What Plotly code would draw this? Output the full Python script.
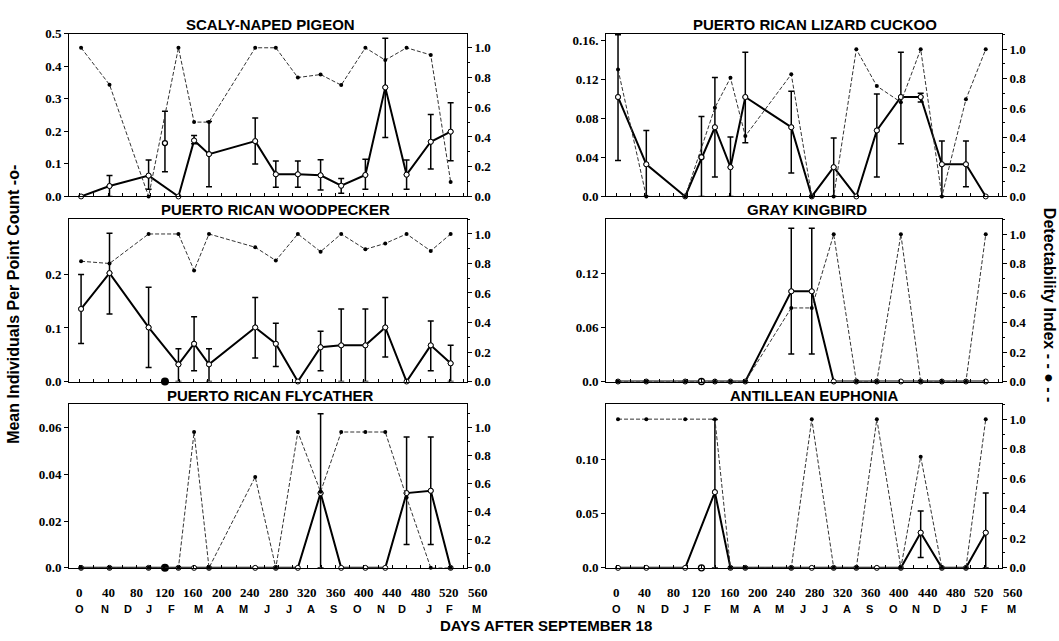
import plotly.graph_objects as go

# ---------------- data ----------------
days = [2, 42, 97, 139, 161, 182, 247, 276, 307, 339, 368, 402, 430, 460, 494, 522]
iso_day = 120

pigeon_mean = [0.0, 0.032, 0.064, 0.0, 0.172, 0.13, 0.17, 0.068, 0.068, 0.065, 0.033, 0.066, 0.335, 0.067, 0.168, 0.199]
pigeon_hi = [None, 0.064, 0.112, None, 0.187, 0.23, 0.241, 0.109, 0.109, 0.113, 0.055, 0.114, 0.486, 0.112, 0.252, 0.288]
pigeon_lo = [None, 0.0, 0.022, None, 0.162, 0.03, 0.10, 0.028, 0.028, 0.02, 0.01, 0.022, 0.181, 0.022, 0.084, 0.11]
pigeon_det = [1.0, 0.752, 0.0, 1.0, 0.50, 0.50, 1.0, 1.0, 0.80, 0.82, 0.749, 1.0, 0.917, 1.0, 0.952, 0.098]
pigeon_iso = [0.164, 0.262, 0.076]      # mean, hi, lo

woodpecker_mean = [0.1355, 0.2024, 0.101, 0.032, 0.0705, 0.032, 0.101, 0.0705, 0.0, 0.064, 0.0675, 0.0675, 0.101, 0.0, 0.0675, 0.034]
woodpecker_hi = [0.2, 0.277, 0.176, 0.061, 0.121, 0.061, 0.157, 0.109, None, 0.094, 0.1355, 0.1355, 0.157, None, 0.113, 0.0675]
woodpecker_lo = [0.071, 0.126, 0.026, 0.0, 0.02, 0.0, 0.044, 0.028, None, 0.02, 0.0, 0.0, 0.046, None, 0.02, 0.0]
woodpecker_det = [0.815, 0.80, 1.0, 1.0, 0.753, 1.0, 0.91, 0.82, 1.0, 0.88, 1.0, 0.896, 0.936, 1.0, 0.885, 1.0]

flycatcher_mean = [0, 0, 0, 0, 0, 0, 0, 0, 0, 0.032, 0, 0, 0, 0.032, 0.033, 0]
flycatcher_hi = [None] * 9 + [0.066, None, None, None, 0.056, 0.056, None]
flycatcher_lo = [None] * 9 + [0.0, None, None, None, 0.01, 0.01, None]
flycatcher_det = [0, 0, 0, 0, 0.965, 0, 0.646, 0, 0.965, 0.54, 0.965, 0.965, 0.965, 0.5, 0, 0]

cuckoo_mean = [0.102, 0.033, 0.0, 0.071, 0.030, 0.102, 0.071, 0.0, 0.030, 0.0, 0.0677, 0.102, 0.102, 0.033, 0.033, 0.0]
cuckoo_hi = [0.166, 0.0677, None, 0.122, 0.061, 0.148, 0.108, None, 0.060, None, 0.105, 0.148, 0.106, 0.057, 0.057, None]
cuckoo_lo = [0.037, 0.0, None, 0.02, 0.0, 0.055, 0.024, None, 0.0, None, 0.02, 0.054, 0.097, 0.0, 0.01, None]
cuckoo_det = [0.863, 0.0, 0.0, 0.603, 0.806, 0.41, 0.83, 0.0, 0.0, 1.0, 0.75, 0.64, 1.0, 0.0, 0.66, 1.0]
cuckoo_iso = [0.0403, 0.082, 0.0]

kingbird_mean = [0, 0, 0, 0, 0, 0, 0.1006, 0.1006, 0, 0, 0, 0, 0, 0, 0, 0]
kingbird_hi = [None] * 6 + [0.171, 0.171] + [None] * 8
kingbird_lo = [None] * 6 + [0.0307, 0.0307] + [None] * 8
kingbird_det = [0, 0, 0, 0, 0, 0, 0.5, 0.5, 1.0, 0, 0, 1.0, 0, 0, 0, 1.0]

euphonia_mean = [0, 0, 0, 0.0699, 0, 0, 0, 0, 0, 0, 0, 0, 0.0325, 0, 0, 0.0325]
euphonia_hi = [None, None, None, 0.137] + [None] * 8 + [0.0524, None, None, 0.069]
euphonia_lo = [None, None, None, 0.0] + [None] * 8 + [0.0096, None, None, 0.0]
euphonia_det = [1.0, 1.0, 1.0, 1.0, 0, 0, 0, 1.0, 0, 0, 1.0, 0, 0.748, 0, 0, 1.0]

tick_days = [0, 40, 80, 120, 160, 200, 240, 280, 320, 360, 400, 440, 480, 520, 560]
month_txt = ['O', 'N', 'D', 'J', 'F', 'M', 'A', 'M', 'J', 'J', 'A', 'S', 'O', 'N', 'D', 'J', 'F', 'M']
month_pos = [0, 35, 68, 98, 129, 167, 198, 231, 263, 295, 326, 357, 391, 424, 453, 491, 520, 558]

# ---------------- layout geometry ----------------
W, H = 1059, 641
def fx(p): return p / W
def fy(p): return 1 - p / H

LEFT = (69, 467)
RIGHT = (606, 1002)
ROWS = [(27.3, 194.0), (217.3, 383.5), (406.8, 574.3)]
XR = [-15, 545]

SERIF = "Liberation Serif"
SANS = "Liberation Sans"

panels = [
    dict(title="SCALY-NAPED PIGEON", col=LEFT, row=ROWS[0], tx=270,
         mean=pigeon_mean, hi=pigeon_hi, lo=pigeon_lo, det=pigeon_det,
         iso=pigeon_iso, iso_kind="open", yr=0.5,
         yt=[0, 0.1, 0.2, 0.3, 0.4, 0.5], ytt=["0.0", "0.1", "0.2", "0.3", "0.4", "0.5"], dr=1.095),
    dict(title="PUERTO RICAN WOODPECKER", col=LEFT, row=ROWS[1], tx=275,
         mean=woodpecker_mean, hi=woodpecker_hi, lo=woodpecker_lo, det=woodpecker_det,
         iso=[0.0, None, None], iso_kind="filled", yr=0.303,
         yt=[0, 0.1, 0.2], ytt=["0.0", "0.1", "0.2"], dr=1.10),
    dict(title="PUERTO RICAN FLYCATHER", col=LEFT, row=ROWS[2], tx=270,
         mean=flycatcher_mean, hi=flycatcher_hi, lo=flycatcher_lo, det=flycatcher_det,
         iso=[0.0, None, None], iso_kind="filled", yr=0.070,
         yt=[0, 0.02, 0.04, 0.06], ytt=["0.0", "0.02", "0.04", "0.06"], dr=1.162),
    dict(title="PUERTO RICAN LIZARD CUCKOO", col=RIGHT, row=ROWS[0], tx=815,
         mean=cuckoo_mean, hi=cuckoo_hi, lo=cuckoo_lo, det=cuckoo_det,
         iso=cuckoo_iso, iso_kind="open", yr=0.167,
         yt=[0, 0.04, 0.08, 0.12, 0.16], ytt=["0.0", "0.04", "0.08", "0.12", "0.16."], dr=1.106),
    dict(title="GRAY KINGBIRD", col=RIGHT, row=ROWS[1], tx=807,
         mean=kingbird_mean, hi=kingbird_hi, lo=kingbird_lo, det=kingbird_det,
         iso=[0.0, None, None], iso_kind="open", yr=0.181,
         yt=[0, 0.06, 0.12], ytt=["0.0", "0.06", "0.12"], dr=1.103),
    dict(title="ANTILLEAN EUPHONIA", col=RIGHT, row=ROWS[2], tx=814,
         mean=euphonia_mean, hi=euphonia_hi, lo=euphonia_lo, det=euphonia_det,
         iso=[0.0, None, None], iso_kind="open", yr=0.151,
         yt=[0, 0.05, 0.10], ytt=["0.0", "0.05", "0.10"], dr=1.10),
]

fig = go.Figure()
layout = dict(width=W, height=H, margin=dict(l=0, r=0, t=0, b=0),
              paper_bgcolor="white", plot_bgcolor="white", showlegend=False,
              annotations=[])

tickfont = dict(family=SERIF, size=13, color="black", weight="bold")

for i, p in enumerate(panels):
    k = i + 1
    kd = k + 6
    xa, ya_mean, ya_det = f"x{k}", f"y{k}", f"y{kd}"
    xd = [fx(p["col"][0]), fx(p["col"][1])]
    yd = [fy(p["row"][1]), fy(p["row"][0])]

    layout[f"xaxis{k}"] = dict(domain=xd, anchor=ya_mean, range=XR, showline=True, mirror=True,
                               linecolor="black", linewidth=1, ticks="inside", tick0=0, dtick=20,
                               ticklen=3, tickcolor="black", showticklabels=False,
                               showgrid=False, zeroline=False, fixedrange=True)
    # left axis: mean individuals per point count
    layout[f"yaxis{k}"] = dict(domain=yd, anchor=xa, side="left", range=[0, p["yr"]],
                               tickvals=p["yt"], ticktext=p["ytt"],
                               ticks="outside", ticklen=4, tickcolor="black",
                               showline=True, linecolor="black", linewidth=1,
                               showgrid=False, zeroline=False, tickfont=tickfont, fixedrange=True)
    # right axis: detectability index (overlay, drawn on top)
    layout[f"yaxis{kd}"] = dict(overlaying=ya_mean, anchor=xa, side="right", range=[0, p["dr"]],
                                tickvals=[0, 0.2, 0.4, 0.6, 0.8, 1.0],
                                ticktext=["0.0", "0.2", "0.4", "0.6", "0.8", "1.0"],
                                ticks="outside", ticklen=4, tickcolor="black",
                                minor=dict(ticks="outside", ticklen=2, dtick=0.1, tickcolor="black"),
                                showline=True, linecolor="black", linewidth=1,
                                showgrid=False, zeroline=False, tickfont=tickfont, fixedrange=True)

    # mean individuals (solid, open circles)
    fig.add_trace(go.Scatter(x=days, y=p["mean"], xaxis=xa, yaxis=ya_mean, mode="lines+markers",
                             line=dict(color="black", width=2),
                             marker=dict(color="white", size=5, line=dict(color="black", width=1)),
                             cliponaxis=False))
    # error bars
    ex, ey, eu, el = [], [], [], []
    for d, v, h, l in zip(days, p["mean"], p["hi"], p["lo"]):
        if h is not None:
            ex.append(d); ey.append(v); eu.append(h - v); el.append(v - l)
    if ex:
        fig.add_trace(go.Scatter(x=ex, y=ey, xaxis=xa, yaxis=ya_mean, mode="markers",
                                 marker=dict(color="white", size=5, line=dict(color="black", width=1)),
                                 error_y=dict(type="data", symmetric=False, array=eu, arrayminus=el,
                                              color="black", thickness=1.5, width=3),
                                 cliponaxis=False))
    # isolated sample
    iv, ih, il = p["iso"]
    if p["iso_kind"] == "filled":
        mk = dict(color="black", size=8)
    else:
        mk = dict(color="white", size=6 if ih is None else 5, line=dict(color="black", width=1.3))
    err = None
    if ih is not None:
        err = dict(type="data", symmetric=False, array=[ih - iv], arrayminus=[iv - il],
                   color="black", thickness=1.5, width=3)
    fig.add_trace(go.Scatter(x=[iso_day], y=[iv], xaxis=xa, yaxis=ya_mean, mode="markers",
                             marker=mk, error_y=err, cliponaxis=False))
    # detectability (dashed, filled dots)
    fig.add_trace(go.Scatter(x=days, y=p["det"], xaxis=xa, yaxis=ya_det, mode="lines+markers",
                             line=dict(color="#333", width=1, dash="4px,2px"),
                             marker=dict(color="black", size=4), cliponaxis=False))

    # panel title
    layout["annotations"].append(dict(text=f"<b>{p['title']}</b>", xref="paper", yref="paper",
                                      x=fx(p["tx"]), y=fy(p["row"][0] - 9.5), showarrow=False,
                                      xanchor="center", yanchor="middle",
                                      font=dict(family=SANS, size=15, color="black")))


def day_to_paper(col, d):
    """Position of a day value along a panel's x axis (same linear scale as the axis)."""
    x0, x1 = fx(col[0]), fx(col[1])
    return x0 + (d - XR[0]) / (XR[1] - XR[0]) * (x1 - x0)


# bottom tick labels (numbers and months) for the two bottom panels
for col in (LEFT, RIGHT):
    for d in tick_days:
        layout["annotations"].append(dict(text=f"<b>{d}</b>", xref="paper", yref="paper",
                                          x=day_to_paper(col, d), y=fy(600), showarrow=False,
                                          xanchor="center", yanchor="middle",
                                          font=dict(family=SERIF, size=13, color="black")))
    for m, d in zip(month_txt, month_pos):
        layout["annotations"].append(dict(text=f"<b>{m}</b>", xref="paper", yref="paper",
                                          x=day_to_paper(col, d), y=fy(616), showarrow=False,
                                          xanchor="center", yanchor="middle",
                                          font=dict(family=SANS, size=11, color="black")))

# axis titles
layout["annotations"].append(dict(text="<b>DAYS AFTER SEPTEMBER 18</b>", xref="paper", yref="paper",
                                  x=fx(546), y=fy(633), showarrow=False, xanchor="center",
                                  yanchor="middle", font=dict(family=SANS, size=15, color="black")))
layout["annotations"].append(dict(text="<b>Mean Individuals Per Point Count -o-</b>", xref="paper",
                                  yref="paper", x=fx(14), y=fy(305), showarrow=False, textangle=-90,
                                  xanchor="center", yanchor="middle",
                                  font=dict(family=SANS, size=16, color="black")))
layout["annotations"].append(dict(text="<b>Detectability Index - - ● - -</b>", xref="paper",
                                  yref="paper", x=fx(1049), y=fy(305), showarrow=False, textangle=90,
                                  xanchor="center", yanchor="middle",
                                  font=dict(family=SANS, size=16, color="black")))

fig.update_layout(**layout)
fig.write_html("out.html")
